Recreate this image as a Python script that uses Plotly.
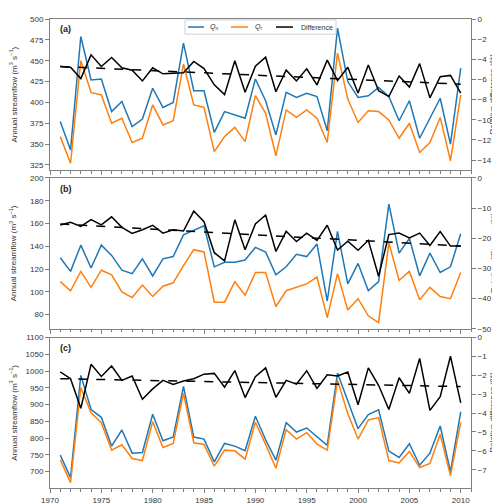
import plotly.graph_objects as go

years = list(range(1971, 2011))

# Panel (a)
qn_a = [377, 343, 479, 427, 428, 389, 401, 371, 380, 417, 394, 400, 471, 414, 414, 364, 389, 385, 381, 428,
        402, 361, 412, 406, 411, 407, 366, 489, 425, 406, 408, 418, 407, 378, 402, 357, 381, 405, 350, 441]
qr_a = [359, 327, 450, 412, 409, 375, 381, 352, 357, 397, 373, 378, 446, 397, 394, 341, 359, 370, 353, 408,
        387, 336, 391, 382, 391, 381, 352, 459, 404, 376, 390, 389, 379, 357, 375, 340, 352, 382, 330, 409]
diff_a = [-4.72, -4.79, -5.92, -3.56, -4.72, -3.82, -4.85, -5.08, -6.15, -4.85, -5.44, -5.37, -5.34, -4.21, -4.92,
          -6.54, -7.51, -4.14, -7.28, -4.69, -3.79, -7.22, -5.08, -6.15, -4.95, -6.54, -4.08, -6.12, -4.79, -7.35,
          -4.56, -7.12, -7.70, -5.66, -6.76, -4.43, -7.83, -5.73, -5.60, -7.35]

# Panel (b)
qn_b = [130, 118, 141, 121, 141, 132, 119, 116, 129, 114, 129, 131, 150, 154, 158, 122, 126, 126, 128, 139,
        135, 115, 122, 133, 131, 142, 92, 153, 107, 125, 101, 109, 177, 134, 147, 114, 134, 117, 122, 151]
qr_b = [109, 101, 118, 104, 119, 115, 100, 95, 106, 96, 105, 108, 123, 137, 135, 91, 91, 109, 97, 117,
        117, 87, 101, 104, 107, 113, 77.4, 116, 84, 94, 79, 73, 143, 110, 118, 93, 104, 96, 94, 117]
diff_b = [-15.6, -14.7, -16.1, -13.8, -15.6, -12.9, -16.4, -18.4, -17.2, -15.7, -18.3, -17.2, -17.6, -11.0, -14.5,
          -24.8, -27.5, -13.9, -23.8, -15.3, -12.3, -24.4, -17.7, -21.1, -18.3, -20.7, -15.7, -23.9, -21.0, -24.0,
          -20.7, -32.6, -18.8, -18.3, -19.9, -18.3, -22.4, -17.8, -22.6, -22.6]

# Panel (c)
qn_c = [749, 682, 987, 885, 862, 776, 824, 755, 757, 871, 792, 803, 954, 803, 797, 729, 784, 776, 762, 865,
        795, 734, 846, 818, 830, 804, 778, 994, 910, 828, 870, 884, 761, 742, 783, 719, 755, 836, 700, 878]
qr_c = [735, 667, 951, 875, 846, 764, 780, 739, 733, 849, 772, 784, 934, 786, 781, 716, 764, 762, 737, 847,
        781, 710, 825, 797, 816, 782, 764, 972, 873, 797, 854, 861, 733, 726, 760, 712, 724, 811, 688, 847]
diff_c = [-1.82, -2.18, -3.75, -1.42, -2.06, -1.51, -2.27, -2.04, -3.27, -2.72, -2.27, -2.49, -2.30, -2.18, -1.94,
          -1.90, -2.63, -1.75, -3.18, -2.08, -1.61, -3.17, -2.27, -2.47, -1.76, -2.70, -1.97, -2.04, -1.83, -3.56,
          -1.61, -2.53, -3.81, -2.13, -2.96, -1.11, -3.86, -3.13, -0.99, -3.46]

trend_years = [1971, 2010]
trend_a = [-4.72, -6.47]
trend_b = [-15.3, -22.6]
trend_c = [-2.18, -2.60]

panel_labels = ["(a)", "(b)", "(c)"]
series_names = ["<i>Q</i><sub>n</sub>", "<i>Q</i><sub>r</sub>", "Difference"]
left_title = "Annual streamflow (m<sup>3</sup> s<sup>−1</sup>)"
right_title = "Relative difference (%)"

BLUE = "#1f77b4"
ORANGE = "#ff7f0e"
SPINE = "#808080"
TXT = "#333333"
FONT = "Liberation Sans, Arial, sans-serif"

W, H = 500, 504
ML, MR, MT, MB = 42, 37, 7, 18
PW, PH = W - ML - MR, H - MT - MB


def px_x(px):
    return (px - ML) / PW


def px_y(py):
    return (H - MB - py) / PH


fig = go.Figure()

panels = [
    (qn_a, qr_a, diff_a, trend_a),
    (qn_b, qr_b, diff_b, trend_b),
    (qn_c, qr_c, diff_c, trend_c),
]
colors = [BLUE, ORANGE, "black"]

for i, (qn, qr, df, tr) in enumerate(panels):
    xa = "x" if i == 0 else f"x{i+1}"
    yl = "y" if i == 0 else f"y{2*i+1}"
    yr = f"y{2*i+2}"
    fig.add_trace(go.Scatter(x=years, y=qn, mode="lines", line=dict(color=BLUE, width=1.5),
                             name=series_names[0], showlegend=False, xaxis=xa, yaxis=yl))
    fig.add_trace(go.Scatter(x=years, y=qr, mode="lines", line=dict(color=ORANGE, width=1.5),
                             name=series_names[1], showlegend=False, xaxis=xa, yaxis=yl))
    fig.add_trace(go.Scatter(x=years, y=df, mode="lines", line=dict(color="black", width=1.5),
                             name=series_names[2], showlegend=False, xaxis=xa, yaxis=yr))
    fig.add_trace(go.Scatter(x=trend_years, y=tr, mode="lines",
                             line=dict(color="black", width=1.5, dash="dash"),
                             showlegend=False, xaxis=xa, yaxis=yr))

# panel vertical extents in pixels (top, bottom)
panel_px = [(6.7, 161.7), (169.3, 323.3), (332.3, 486.0)]
domains = [[px_y(b), px_y(t)] for (t, b) in panel_px]
domains = [[max(0.0, d[0]), min(1.0, d[1])] for d in domains]
left_ranges = [[318.4, 500], [67.7, 200], [651, 1100]]
left_ticks = [list(range(325, 501, 25)), list(range(80, 201, 20)), list(range(700, 1101, 50))]
right_ranges = [[-15.04, 0], [-50, 0], [-7.97, 0]]
right_ticks = [list(range(-14, 1, 2)), list(range(-50, 1, 10)), list(range(-8, 1, 1))]

tickfont = dict(family=FONT, size=8, color=TXT)

layout = dict(
    width=W, height=H,
    margin=dict(l=ML, r=MR, t=MT, b=MB),
    paper_bgcolor="white", plot_bgcolor="white",
    font=dict(family=FONT, size=8, color=TXT),
    showlegend=False,
)

for i in range(3):
    xk = "xaxis" if i == 0 else f"xaxis{i+1}"
    ylk = "yaxis" if i == 0 else f"yaxis{2*i+1}"
    yrk = f"yaxis{2*i+2}"
    yl_id = "y" if i == 0 else f"y{2*i+1}"
    xa_id = "x" if i == 0 else f"x{i+1}"
    layout[xk] = dict(
        domain=[0, 1], anchor=yl_id, range=[1970, 2011],
        tickmode="array", tickvals=list(range(1970, 2011, 5)),
        showticklabels=(i == 2), ticks="outside", ticklen=4, tickwidth=1, tickcolor=SPINE,
        minor=dict(ticks="outside", ticklen=2.5, tickcolor=SPINE, dtick=1, tick0=1970, showgrid=False),
        showline=True, linecolor=SPINE, linewidth=1, mirror=True,
        showgrid=False, zeroline=False, tickfont=tickfont,
    )
    if i != 0:
        layout[xk]["matches"] = "x"
    layout[ylk] = dict(
        domain=domains[i], anchor=xa_id, range=left_ranges[i],
        tickmode="array", tickvals=left_ticks[i],
        ticks="outside", ticklen=4, tickwidth=1, tickcolor=SPINE,
        showline=True, linecolor=SPINE, linewidth=1,
        showgrid=False, zeroline=False, tickfont=tickfont,
    )
    layout[yrk] = dict(
        domain=domains[i], anchor=xa_id, overlaying=yl_id, side="right", range=right_ranges[i],
        tickmode="array", tickvals=right_ticks[i],
        ticks="outside", ticklen=4, tickwidth=1, tickcolor=SPINE,
        showline=True, linecolor=SPINE, linewidth=1,
        showgrid=False, zeroline=False, tickfont=tickfont,
    )

fig.update_layout(**layout)

annotations = []
shapes = []
for i in range(3):
    t, b = panel_px[i]
    mid = px_y((t + b) / 2)
    annotations.append(dict(text=f"<b>{panel_labels[i]}</b>", xref="paper", yref="paper",
                            x=px_x(50), y=px_y(t + 11), xanchor="left", yanchor="middle", showarrow=False,
                            font=dict(family=FONT, size=9, color="#222222")))
    annotations.append(dict(text=left_title, xref="paper", yref="paper", x=px_x(5), y=mid,
                            xanchor="center", yanchor="middle", textangle=-90, showarrow=False,
                            font=dict(family=FONT, size=8, color=TXT)))
    annotations.append(dict(text=right_title, xref="paper", yref="paper", x=px_x(485), y=mid,
                            xanchor="center", yanchor="middle", textangle=-90, showarrow=False,
                            font=dict(family=FONT, size=8, color=TXT)))

# legend box (panel a)
shapes.append(dict(type="rect", xref="paper", yref="paper", x0=px_x(177), x1=px_x(328),
                   y0=px_y(22.5), y1=px_y(8), line=dict(color="#d0d0d0", width=1), fillcolor="white",
                   layer="above"))
leg_line_x = [(180, 196), (223, 240), (268, 285)]
leg_text_x = [200, 245, 291]
for k in range(3):
    shapes.append(dict(type="line", xref="paper", yref="paper", x0=px_x(leg_line_x[k][0]),
                       x1=px_x(leg_line_x[k][1]), y0=px_y(15.2), y1=px_y(15.2),
                       line=dict(color=colors[k], width=1.5), layer="above"))
    annotations.append(dict(text=series_names[k], xref="paper", yref="paper", x=px_x(leg_text_x[k]),
                            y=px_y(15.2), xanchor="left", yanchor="middle", showarrow=False,
                            font=dict(family=FONT, size=7, color=TXT)))

fig.update_layout(annotations=annotations, shapes=shapes)

fig.write_html("out.html")
